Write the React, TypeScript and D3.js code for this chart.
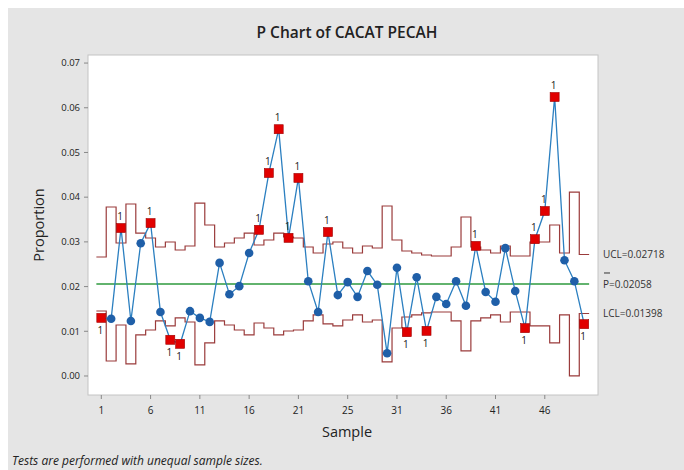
import * as d3 from 'd3'

// P chart values (samples 1..50)
const P_BAR = 0.02058
const UCL_LAST = 0.02718
const LCL_LAST = 0.01398

const proportion = [
  0.0130, 0.0128, 0.0331, 0.0123, 0.0297, 0.0342, 0.0143, 0.0081, 0.0072, 0.0145,
  0.0130, 0.0121, 0.0253, 0.0183, 0.0201, 0.0275, 0.0327, 0.0454, 0.0552, 0.0309,
  0.0443, 0.0212, 0.0143, 0.0322, 0.0181, 0.0210, 0.0177, 0.0235, 0.0204, 0.0051,
  0.0242, 0.0098, 0.0221, 0.0101, 0.0177, 0.0161, 0.0212, 0.0157, 0.0291, 0.0188,
  0.0166, 0.0286, 0.0190, 0.0107, 0.0306, 0.0369, 0.0624, 0.0259, 0.0212, 0.0116,
]

const ucl = [
  0.02662, 0.0378, 0.02975, 0.03847, 0.03198, 0.03087, 0.02885, 0.02997, 0.02818, 0.02908,
  0.03869, 0.03377, 0.02885, 0.02975, 0.03087, 0.03198, 0.0293, 0.03042, 0.03198, 0.03109,
  0.03087, 0.02885, 0.02751, 0.02952, 0.02997, 0.02863, 0.02751, 0.02908, 0.02863, 0.03802,
  0.03042, 0.02796, 0.02751, 0.02706, 0.02684, 0.02684, 0.02885, 0.03556, 0.02885, 0.02818,
  0.02751, 0.02908, 0.02684, 0.02684, 0.02997, 0.02997, 0.03377, 0.02751, 0.04115, 0.02718,
]

const lcl = [
  0.01454, 0.00336, 0.01141, 0.00269, 0.00918, 0.01029, 0.01231, 0.01119, 0.01298, 0.01208,
  0.00247, 0.00739, 0.01231, 0.01141, 0.01029, 0.00918, 0.01186, 0.01074, 0.00918, 0.01007,
  0.01029, 0.01231, 0.01365, 0.01164, 0.01119, 0.01253, 0.01365, 0.01208, 0.01253, 0.00314,
  0.01074, 0.0132, 0.01365, 0.0141, 0.01432, 0.01432, 0.01231, 0.0056, 0.01231, 0.01298,
  0.01365, 0.01208, 0.01432, 0.01432, 0.01119, 0.01119, 0.00739, 0.01365, 0.00001, 0.01398,
]

// samples failing test 1 (beyond limits)
const flagged = [1, 3, 6, 8, 9, 17, 18, 19, 20, 21, 24, 32, 34, 39, 44, 45, 46, 47, 50]

const yTicks = [0, 0.01, 0.02, 0.03, 0.04, 0.05, 0.06, 0.07]
const xTickPos = [1, 6, 11, 16, 21, 26, 31, 36, 41, 46]
const xTickLabels = ['1', '6', '11', '16', '21', '25', '31', '36', '41', '46']

const FONT = '"Open Sans", "Noto Sans", sans-serif'
const LIMIT = '#9a3b3b'
const TEXT = '#222'

export default function App() {
  const W = 684
  const H = 470
  const left = 88
  const right = 598
  const top = 55
  const bottom = 395

  const x = d3.scaleLinear().domain([-0.35, 51.4]).range([left, right])
  const y = d3.scaleLinear().domain([-0.00425, 0.0718]).range([bottom, top])

  const samples = proportion.map((v, i) => ({ s: i + 1, v }))

  const stepPts = (vals: number[]) =>
    vals.flatMap((v, i) => [
      [i + 0.5, Math.max(v, 0)] as [number, number],
      [i + 1.5, Math.max(v, 0)] as [number, number],
    ])
  const line = d3
    .line<[number, number]>()
    .x((d) => x(d[0]))
    .y((d) => y(d[1]))
  const uclPath = line(stepPts(ucl)) ?? ''
  const lclPath = line(stepPts(lcl)) ?? ''
  const dataPath =
    d3
      .line<{ s: number; v: number }>()
      .x((d) => x(d.s))
      .y((d) => y(d.v))(samples) ?? ''

  const flagSet = new Set(flagged)
  const labelX = 603

  return (
    <svg width={W} height={H} style={{ position: 'absolute', left: 0, top: 0 }}>
      <rect x={0} y={0} width={W} height={H} fill="#fff" />
      <rect x={8} y={8} width={W - 8} height={H - 8} fill="#e5e5e5" />
      <text x={347} y={38} textAnchor="middle" fontFamily={FONT} fontWeight={600} fontSize={15.5} fill={TEXT}>
        P Chart of CACAT PECAH
      </text>

      <rect x={left} y={top} width={right - left} height={bottom - top} fill="#fff" stroke="#c4c4c4" strokeWidth={1} />

      {yTicks.map((t) => (
        <g key={t}>
          <line x1={left - 4} x2={left} y1={y(t)} y2={y(t)} stroke="#888" />
          <text x={left - 8} y={y(t)} dy="0.35em" textAnchor="end" fontFamily={FONT} fontSize={9.5} fill={TEXT}>
            {t.toFixed(2)}
          </text>
        </g>
      ))}
      {xTickPos.map((t, i) => (
        <g key={t}>
          <line x1={x(t)} x2={x(t)} y1={bottom} y2={bottom + 4} stroke="#888" />
          <text x={x(t)} y={bottom + 19} textAnchor="middle" fontFamily={FONT} fontSize={10} fill={TEXT}>
            {xTickLabels[i]}
          </text>
        </g>
      ))}

      <text
        transform={`translate(44,${(top + bottom) / 2}) rotate(-90)`}
        textAnchor="middle"
        fontFamily={FONT}
        fontSize={14.5}
        fill={TEXT}
      >
        Proportion
      </text>
      <text x={347} y={437} textAnchor="middle" fontFamily={FONT} fontSize={14.5} fill={TEXT}>
        Sample
      </text>
      <text x={12} y={465} fontFamily={FONT} fontStyle="italic" fontSize={12} fill={TEXT}>
        Tests are performed with unequal sample sizes.
      </text>

      <line x1={x(0.5)} x2={x(50.5)} y1={y(P_BAR)} y2={y(P_BAR)} stroke="#2e9a3e" strokeWidth={1.4} />
      <path d={uclPath} fill="none" stroke={LIMIT} strokeWidth={1.2} />
      <path d={lclPath} fill="none" stroke={LIMIT} strokeWidth={1.2} />

      <path d={dataPath} fill="none" stroke="#2b7fc0" strokeWidth={1.3} />
      {samples.map((d) =>
        flagSet.has(d.s) ? (
          <g key={d.s}>
            <rect x={x(d.s) - 4.5} y={y(d.v) - 4.5} width={9} height={9} fill="#e10000" stroke="#a00000" strokeWidth={0.6} />
            <text
              x={x(d.s) - 1}
              y={d.v > ucl[d.s - 1] || d.v > P_BAR ? y(d.v) - 8 : y(d.v) + 16}
              textAnchor="middle"
              fontFamily={FONT}
              fontSize={10}
              fill={TEXT}
            >
              1
            </text>
          </g>
        ) : (
          <circle key={d.s} cx={x(d.s)} cy={y(d.v)} r={4.3} fill="#1f5fa8" />
        ),
      )}

      <text x={labelX} y={y(UCL_LAST)} dy="0.35em" fontFamily={FONT} fontSize={10} fill="#333">
        UCL=0.02718
      </text>
      <line x1={labelX + 1} x2={labelX + 7} y1={y(P_BAR) - 11} y2={y(P_BAR) - 11} stroke="#333" strokeWidth={1} />
      <text x={labelX} y={y(P_BAR)} dy="0.45em" fontFamily={FONT} fontSize={10} fill="#333">
        P=0.02058
      </text>
      <text x={labelX} y={y(LCL_LAST)} dy="0.35em" fontFamily={FONT} fontSize={10} fill="#333">
        LCL=0.01398
      </text>
    </svg>
  )
}
